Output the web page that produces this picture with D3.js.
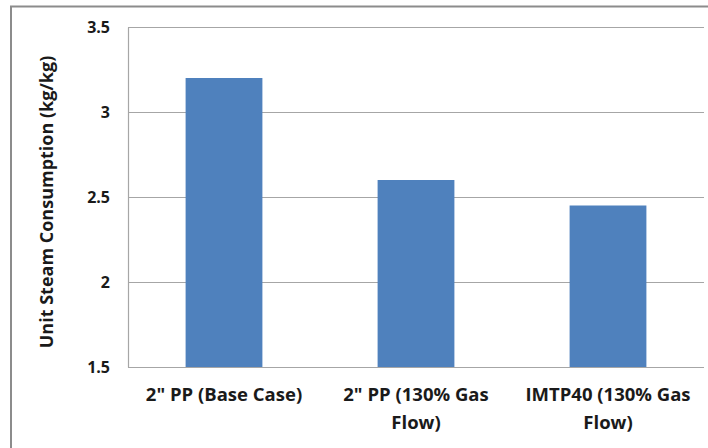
<!DOCTYPE html>
<html>
<head>
<meta charset="utf-8">
<script src="https://cdn.jsdelivr.net/npm/d3@7"></script>
<style>
  body { margin: 0; background: #fff; }
  svg { display: block; }
</style>
</head>
<body>
<svg id="chart" width="708" height="448"></svg>
<script>
const categories = ['2" PP (Base Case)', '2" PP (130% Gas Flow)', 'IMTP40 (130% Gas Flow)'];
const values = [3.2, 2.6, 2.45];
const yTicks = [1.5, 2, 2.5, 3, 3.5];
const yTitle = "Unit Steam Consumption (kg/kg)";

const svg = d3.select("#chart");
const width = 708, height = 448;
const margin = { top: 27, right: 4, bottom: 81, left: 128 };
const font = "'Open Sans', 'DejaVu Sans', sans-serif";

// outer chart border (Excel style)
svg.append("rect")
  .attr("x", 11).attr("y", 6.5)
  .attr("width", width + 20).attr("height", height + 20)
  .attr("fill", "none")
  .attr("stroke", "#8c8c8c")
  .attr("stroke-width", 2);

const x = d3.scaleBand()
  .domain(categories)
  .range([margin.left, width - margin.right])
  .paddingInner(0.6)
  .paddingOuter(0.3);

const y = d3.scaleLinear()
  .domain([1.5, 3.5])
  .range([height - margin.bottom, margin.top]);

// gridlines
svg.append("g")
  .attr("class", "grid")
  .selectAll("line")
  .data(yTicks)
  .enter().append("line")
  .attr("x1", margin.left)
  .attr("x2", width - margin.right)
  .attr("y1", d => Math.round(y(d)) + 0.5)
  .attr("y2", d => Math.round(y(d)) + 0.5)
  .attr("stroke", "#a6a6a6")
  .attr("stroke-width", 1.2);

// bars
svg.append("g")
  .attr("fill", "#4f81bd")
  .selectAll("rect")
  .data(values)
  .enter().append("rect")
  .attr("x", (d, i) => x(categories[i]))
  .attr("y", d => y(d))
  .attr("width", x.bandwidth())
  .attr("height", d => y(1.5) - y(d));

// y axis
svg.append("g")
  .attr("transform", `translate(${margin.left},0)`)
  .call(d3.axisLeft(y).tickValues(yTicks).tickSize(0).tickPadding(18).tickFormat(d3.format("")))
  .call(g => g.select(".domain").attr("stroke", "#a6a6a6").attr("stroke-width", 1.2))
  .call(g => g.selectAll("text")
    .style("font-family", font)
    .style("font-size", "16px")
    .style("font-weight", "bold")
    .attr("fill", "#1a1a1a"));

// x axis
const xAxis = svg.append("g")
  .attr("transform", `translate(0,${height - margin.bottom})`)
  .call(d3.axisBottom(x).tickSize(0).tickPadding(34))
  .call(g => g.select(".domain").remove());

xAxis.selectAll("text")
  .style("font-family", font)
  .style("font-size", "18.5px")
  .style("font-weight", "bold")
  .attr("fill", "#1a1a1a")
  .each(function () {
    const t = d3.select(this);
    const words = t.text().split(" ");
    const maxW = x.step() - 10;
    t.text(null);
    let line = [];
    let tspan = t.append("tspan").attr("x", 0).attr("dy", 0);
    words.forEach(w => {
      line.push(w);
      tspan.text(line.join(" "));
      if (tspan.node().getComputedTextLength() > maxW && line.length > 1) {
        line.pop();
        tspan.text(line.join(" "));
        line = [w];
        tspan = t.append("tspan").attr("x", 0).attr("dy", "1.5em").text(w);
      }
    });
  });

// y title
svg.append("text")
  .attr("transform", `translate(47,202) rotate(-90)`)
  .attr("text-anchor", "middle")
  .attr("dy", "0.35em")
  .style("font-family", font)
  .style("font-size", "18px")
  .style("font-weight", "bold")
  .attr("fill", "#1a1a1a")
  .text(yTitle);
</script>
</body>
</html>
